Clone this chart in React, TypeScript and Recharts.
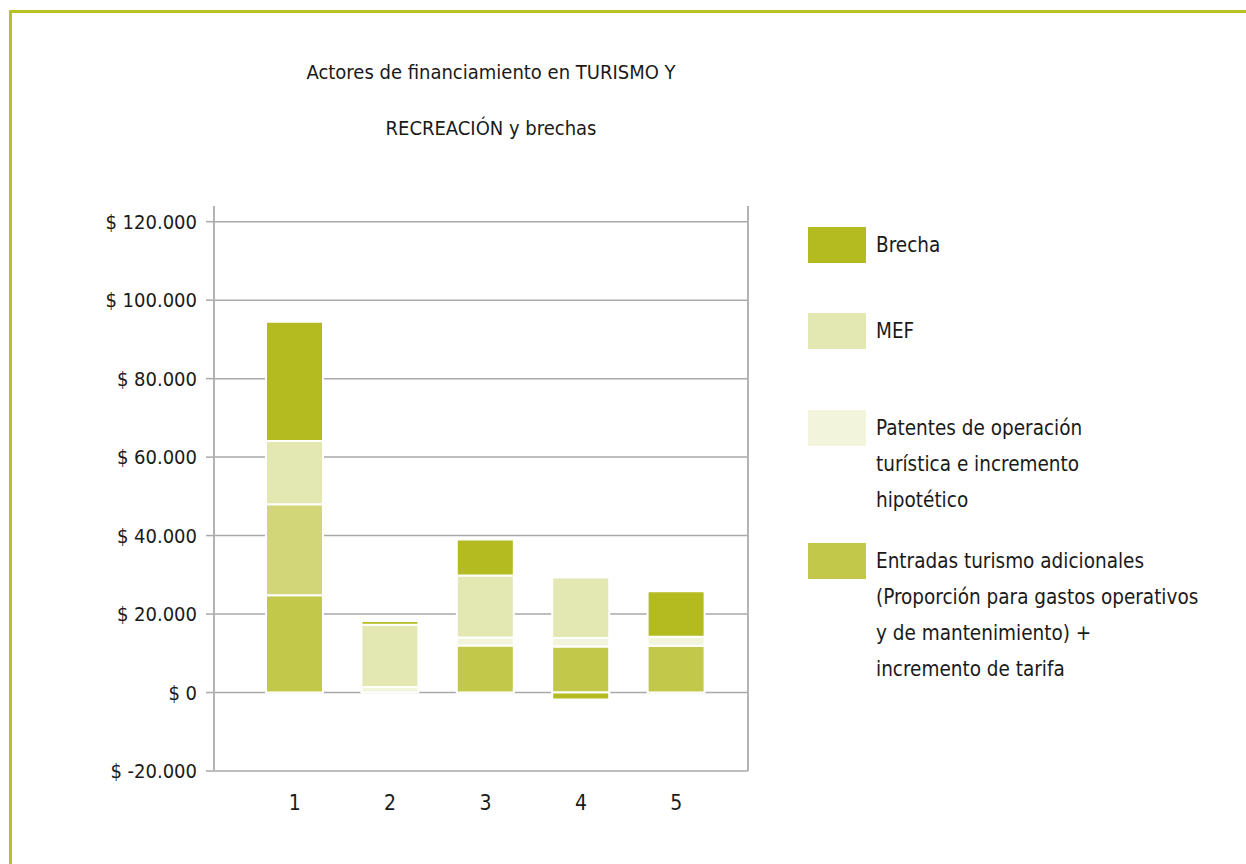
import React from 'react';
import { BarChart, Bar, XAxis, YAxis, CartesianGrid, Legend } from 'recharts';

const categories = ['1', '2', '3', '4', '5'];
const entradas = [24800, 0, 12000, 11700, 11900];
const otros = [23200, 0, 0, 0, 0];
const patentes = [0, 1400, 2000, 2200, 2300];
const mef = [16100, 15900, 15800, 15400, 0];
const brecha = [30400, 900, 9200, -1800, 11600];
const yTicks = [-20000, 0, 20000, 40000, 60000, 80000, 100000, 120000];
const titleLines = ['Actores de financiamiento en TURISMO Y', 'RECREACIÓN y brechas'];
const legendLabels = [
  ['Brecha'],
  ['MEF'],
  ['Patentes de operación', 'turística e incremento', 'hipotético'],
  ['Entradas turismo adicionales', '(Proporción para gastos operativos', 'y de mantenimiento) +', 'incremento de tarifa'],
];

const C_BRECHA = '#b3bb20';
const C_MEF = '#e3e7b2';
const C_PAT = '#f2f5dc';
const C_ENT = '#c2c94a';
const C_OTR = '#d2d679';
const legendColors = [C_BRECHA, C_MEF, C_PAT, C_ENT];
const legendTops = [0, 86, 183, 316];

const FONT = "'DejaVu Sans Condensed', 'Open Sans', sans-serif";

const data = categories.map((c, i) => ({
  cat: c,
  entradas: entradas[i],
  otros: otros[i],
  patentes: patentes[i],
  mef: mef[i],
  brecha: brecha[i],
}));

const fmt = (v: number) => {
  const s = String(Math.abs(v)).replace(/\B(?=(\d{3})+(?!\d))/g, '.');
  return v < 0 ? `$ -${s}` : `$ ${s}`;
};

const LegendContent = () => (
  <div style={{ position: 'relative', width: 420, height: 470, fontFamily: FONT }}>
    {legendLabels.map((lines, i) => (
      <div key={i} style={{ position: 'absolute', left: 0, top: legendTops[i] }}>
        <div style={{ position: 'absolute', left: 0, top: 0, width: 58, height: 36, background: legendColors[i] }} />
        <div style={{ position: 'absolute', left: 68, top: 0, whiteSpace: 'nowrap', fontSize: 20.5, lineHeight: '36px', color: '#1a1a1a' }}>
          {lines.map((l, j) => (
            <div key={j}>{l}</div>
          ))}
        </div>
      </div>
    ))}
  </div>
);

export default function App() {
  return (
    <div style={{ position: 'absolute', left: 0, top: 0, width: 1246, height: 864, overflow: 'hidden', background: '#fff' }}>
      <div style={{ position: 'absolute', left: 9, top: 10, width: 1400, height: 1000, border: '3px solid #b6c124' }} />
      {titleLines.map((t, i) => (
        <div key={i} style={{ position: 'absolute', left: 241, width: 500, top: 58 + i * 56, textAlign: 'center', whiteSpace: 'nowrap', fontFamily: FONT, fontSize: 20, lineHeight: '28px', color: '#1a1a1a' }}>{t}</div>
      ))}
      <div style={{ position: 'absolute', left: 0, top: 0 }}>
        <BarChart width={1246} height={864} data={data} stackOffset="sign" barSize={57}
          margin={{ top: 206, right: 478, left: 0, bottom: 53 }}>
          <CartesianGrid horizontal vertical={false} horizontalValues={yTicks} stroke="#a9a9a9" strokeWidth={1.5} />
          <XAxis dataKey="cat" axisLine={false} tickLine={false} height={40} padding={{ left: 33, right: 24 }}
            tick={{ fontSize: 21, fill: '#1a1a1a', fontFamily: FONT }} tickMargin={18} />
          <YAxis domain={[-20000, 124000]} ticks={yTicks} tickFormatter={fmt} width={214} tickSize={8} tickMargin={9}
            axisLine={{ stroke: '#b3b3b3', strokeWidth: 2 }} tickLine={{ stroke: '#a9a9a9', strokeWidth: 1.5 }}
            tick={{ fontSize: 20, fill: '#1a1a1a', fontFamily: FONT }} interval={0} />
          <YAxis yAxisId="r" orientation="right" domain={[-20000, 124000]} ticks={yTicks} tickFormatter={() => ''} width={20}
            tickSize={13} axisLine={{ stroke: '#b3b3b3', strokeWidth: 2 }} tickLine={{ stroke: '#a9a9a9', strokeWidth: 1.5 }} interval={0} />
          <Legend layout="vertical" align="center" verticalAlign="middle" content={<LegendContent />}
            wrapperStyle={{ position: 'absolute', left: 808, top: 227, width: 420 }} />
          <Bar dataKey="entradas" name="Entradas turismo adicionales" stackId="a" fill={C_ENT} stroke="#fff" strokeWidth={2} isAnimationActive={false} />
          <Bar dataKey="otros" name="Otros" stackId="a" fill={C_OTR} stroke="#fff" strokeWidth={2} isAnimationActive={false} />
          <Bar dataKey="patentes" name="Patentes de operación turística e incremento hipotético" stackId="a" fill={C_PAT} stroke="#fff" strokeWidth={2} isAnimationActive={false} />
          <Bar dataKey="mef" name="MEF" stackId="a" fill={C_MEF} stroke="#fff" strokeWidth={2} isAnimationActive={false} />
          <Bar dataKey="brecha" name="Brecha" stackId="a" fill={C_BRECHA} stroke="#fff" strokeWidth={2} isAnimationActive={false} />
        </BarChart>
      </div>
    </div>
  );
}
